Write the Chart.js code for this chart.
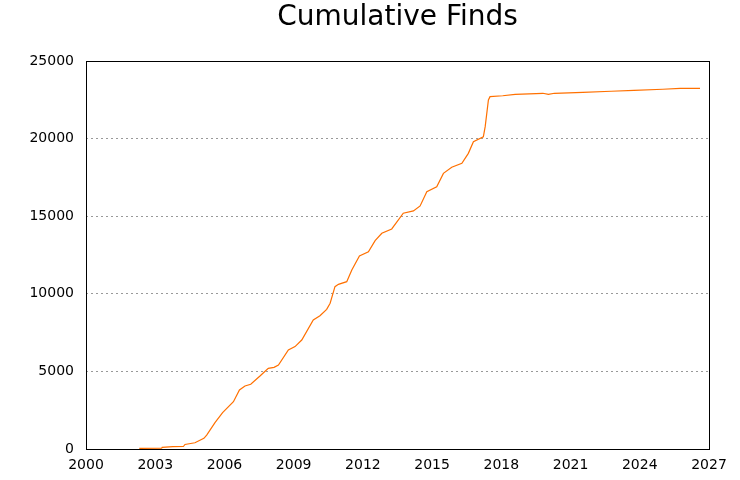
<!DOCTYPE html>
<html>
<head>
<meta charset="utf-8">
<script src="https://cdn.jsdelivr.net/npm/chart.js@4"></script>
<style>
  html, body { margin: 0; padding: 0; background: #fff; }
  #wrap { width: 740px; height: 480px; }
</style>
</head>
<body>
<div id="wrap"><canvas id="findsChart" width="740" height="480"></canvas></div>
<script>
const chartTitle = 'Cumulative Finds';

const years = [
    2002.31, 2003.28, 2003.30, 2003.76, 2004.22, 2004.29, 2004.72, 2005.11, 2005.23, 2005.59,
    2005.92, 2006.39, 2006.65, 2006.89, 2007.14, 2007.54, 2007.90, 2008.15, 2008.34, 2008.77,
    2009.06, 2009.35, 2009.85, 2010.14, 2010.43, 2010.58, 2010.79, 2010.94, 2011.30, 2011.52,
    2011.85, 2012.24, 2012.53, 2012.82, 2013.25, 2013.75, 2014.19, 2014.48, 2014.77, 2015.20,
    2015.49, 2015.85, 2016.29, 2016.57, 2016.79, 2017.22, 2017.30, 2017.44, 2017.51, 2018.06,
    2018.60, 2019.80, 2020.04, 2020.30, 2021.53, 2022.76, 2023.75, 2025.00, 2025.75, 2026.61
];

const finds = [
    40, 50, 110, 150, 160, 290, 400, 690, 900, 1700,
    2340, 3050, 3800, 4060, 4170, 4700, 5200, 5260, 5410, 6380,
    6600, 7020, 8310, 8590, 9000, 9390, 10460, 10610, 10780, 11530,
    12440, 12710, 13420, 13900, 14180, 15190, 15340, 15660, 16580, 16900,
    17760, 18150, 18410, 19050, 19800, 20120, 20770, 22490, 22700, 22760,
    22850, 22920, 22850, 22920, 22980, 23050, 23110, 23180, 23240, 23240
];

const xTicks = [2000, 2003, 2006, 2009, 2012, 2015, 2018, 2021, 2024, 2027];
const yTicks = [0, 5000, 10000, 15000, 20000, 25000];

const FONT = 'DejaVu Sans';

// frame round the plot and a title centred over it
const framePlugin = {
    id: 'frame',
    afterDraw(chart) {
        const { ctx, chartArea: a } = chart;
        ctx.save();
        ctx.strokeStyle = '#000';
        ctx.lineWidth = 1;
        ctx.strokeRect(Math.round(a.left) + 0.5, Math.round(a.top) + 0.5,
            Math.round(a.right - a.left), Math.round(a.bottom - a.top));
        ctx.fillStyle = '#000';
        ctx.font = '28px "' + FONT + '"';
        ctx.textAlign = 'center';
        ctx.textBaseline = 'middle';
        ctx.fillText(chartTitle, (a.left + a.right) / 2, 18);
        ctx.restore();
    }
};

const ctx = document.getElementById('findsChart').getContext('2d');
new Chart(ctx, {
    type: 'line',
    data: {
        datasets: [{
            label: 'Finds',
            data: years.map((y, i) => ({ x: y, y: finds[i] })),
            borderColor: 'rgb(255,112,0)',
            borderWidth: 1.2,
            pointRadius: 0,
            tension: 0,
            fill: false
        }]
    },
    options: {
        responsive: false,
        animation: false,
        devicePixelRatio: 1,
        layout: { padding: { left: 0, right: 31, top: 61, bottom: 0 } },
        plugins: {
            legend: { display: false },
            tooltip: { enabled: false }
        },
        scales: {
            x: {
                type: 'linear',
                min: 2000,
                max: 2027,
                afterBuildTicks: s => { s.ticks = xTicks.map(v => ({ value: v })); },
                afterFit: s => { s.height = 31; },
                grid: { display: false },
                border: { display: false },
                ticks: {
                    color: '#000',
                    font: { family: FONT, size: 14 },
                    padding: 0,
                    maxRotation: 0,
                    callback: v => String(v)
                }
            },
            y: {
                min: 0,
                max: 25000,
                afterBuildTicks: s => { s.ticks = yTicks.map(v => ({ value: v })); },
                afterFit: s => { s.width = 86; },
                grid: {
                    color: ctx => (ctx.tick && (ctx.tick.value === 0 || ctx.tick.value === 25000)) ? 'rgba(0,0,0,0)' : '#999',
                    lineWidth: 1,
                    drawTicks: false
                },
                border: { display: false, dash: [2, 3] },
                ticks: {
                    color: '#000',
                    font: { family: FONT, size: 14 },
                    padding: 12,
                    callback: v => String(v)
                }
            }
        }
    },
    plugins: [framePlugin]
});
</script>
</body>
</html>
